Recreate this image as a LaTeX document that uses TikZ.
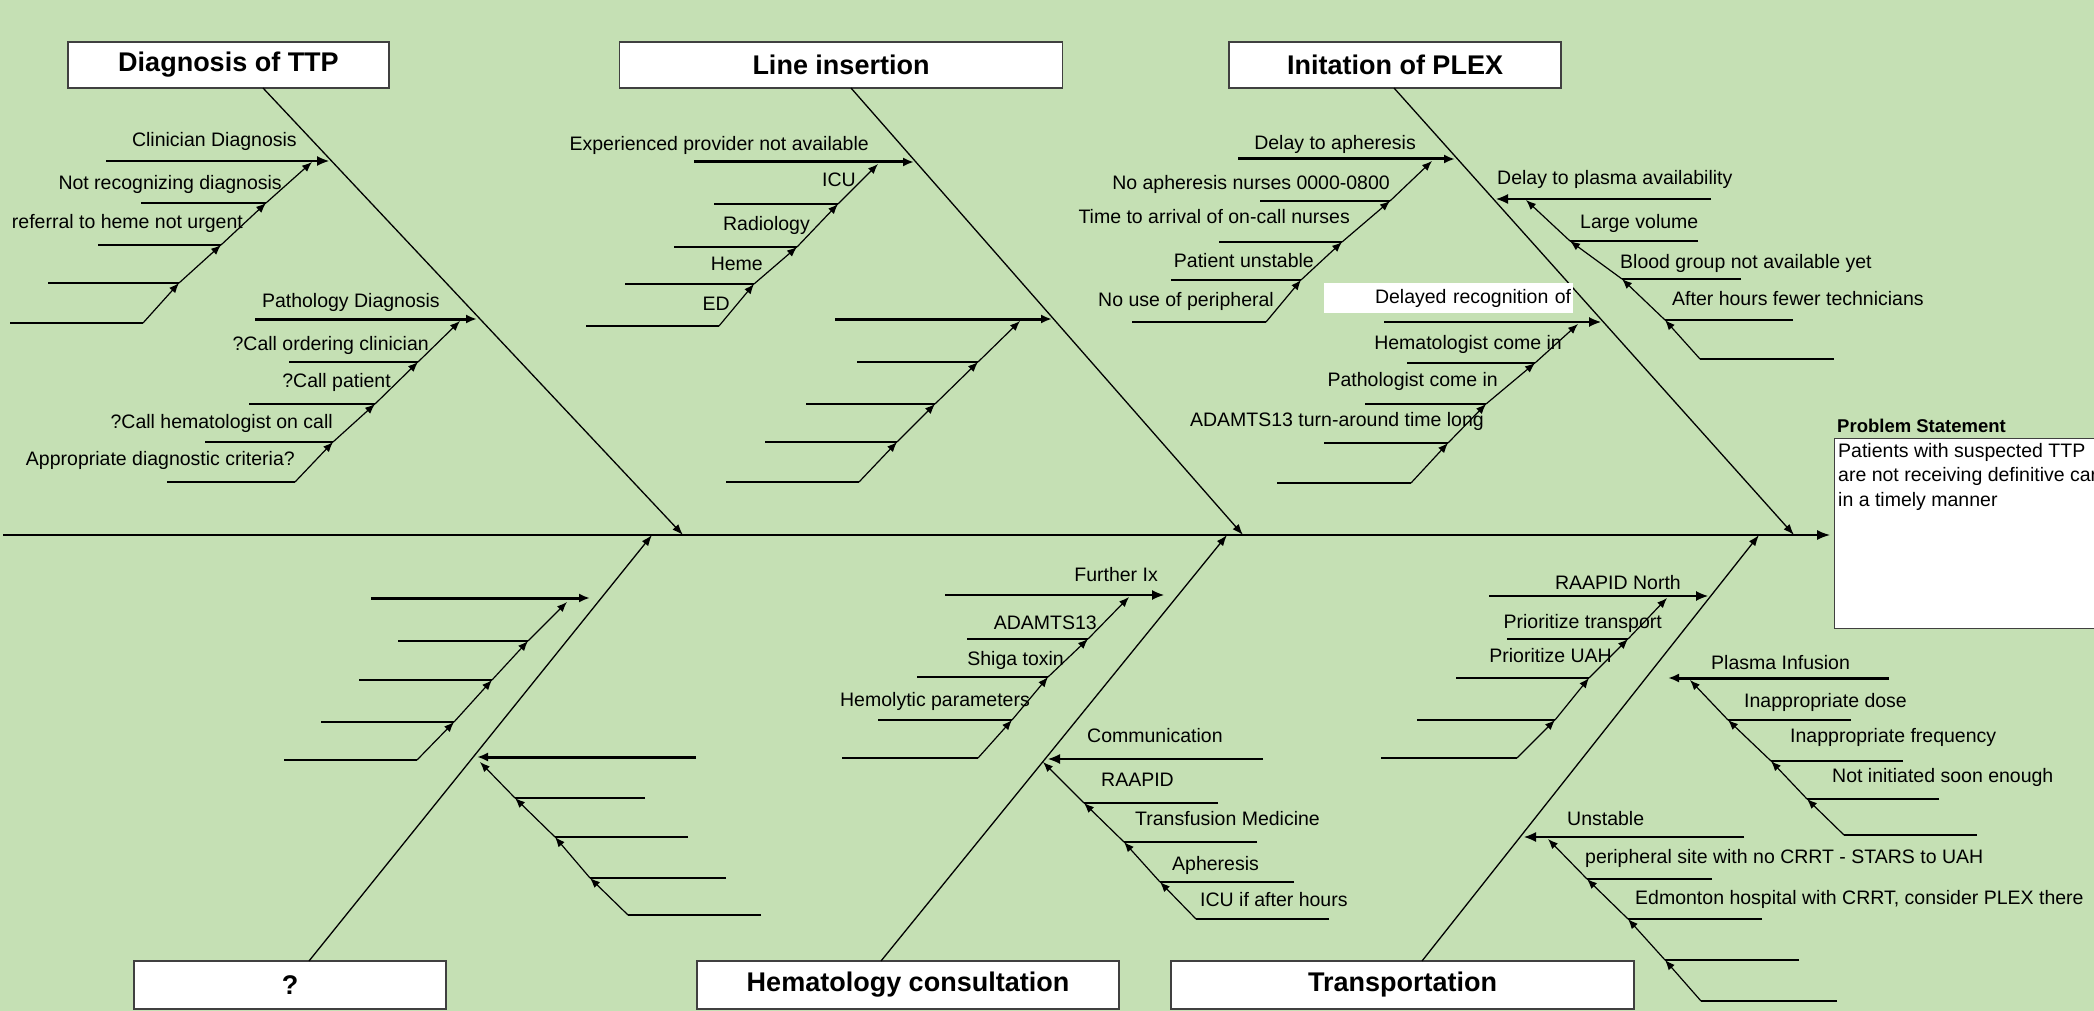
\documentclass[tikz,border=0pt]{standalone}
\usepackage{fontspec}
\setmainfont{Liberation Sans}
\usetikzlibrary{arrows.meta,positioning}
\definecolor{fishbg}{RGB}{197,224,180}
\newcommand{\lblsize}{\fontsize{19.5}{24.5}\selectfont}

\tikzset{
  catbox/.style={draw=black!75, line width=1.3pt, fill=white, inner sep=0pt,
    font=\bfseries\fontsize{27}{30}\selectfont},
  lbl/.style={inner sep=0pt, font=\lblsize},
  spine/.style={line width=1.5pt, -{Latex[length=13pt,width=10pt]}},
  bone/.style={line width=1.3pt, -{Latex[length=11pt,width=8pt]}},
  rib/.style={line width=1.2pt},
  ribarr/.style={line width=1.2pt, -{Latex[length=10pt,width=8pt]}},
  headthin/.style={line width=1.2pt, -{Latex[length=12pt,width=10pt]}},
  headarr/.style={line width=3pt, -{Latex[length=11pt,width=9pt]}},
}

\begin{document}
\begin{tikzpicture}[x=1pt,y=-1pt]
  \fill[fishbg] (0,0) rectangle (2094,1011);
  \useasboundingbox (0,0) rectangle (2094,1011);
  \clip (0,0) rectangle (2094,1011);

  % spine and problem statement
  \coordinate (tail) at (3,535);
  \coordinate (effect) at (1830,535);
  \draw[spine] (tail) -- (effect);
  \node[lbl, font=\bfseries\fontsize{18.5}{22}\selectfont, anchor=base west] (probtitle) at (1837,432) {Problem Statement};
  \node[draw=black!75, line width=1.3pt, fill=white, minimum width=300pt, minimum height=190pt,
        anchor=north west, inner sep=0pt] (probbox) at (1834,438) {};
  \node[lbl, anchor=north west, align=left] (probtext) at (1838,443)
    {Patients with suspected TTP\\are not receiving definitive care\\in a timely manner};

  % category boxes
  \node[catbox, minimum width=321pt, minimum height=46pt] (diag) at (228.5,65) {Diagnosis of TTP};
  \node[catbox, minimum width=443pt, minimum height=46pt] (line) at (841,65) {Line insertion};
  \node[catbox, minimum width=332pt, minimum height=46pt] (plex) at (1395,65) {Initation of PLEX};
  \node[catbox, minimum width=312pt, minimum height=48pt] (unkn) at (290,985) {?};
  \node[catbox, minimum width=422pt, minimum height=48pt] (hema) at (908,985) {Hematology consultation};
  \node[catbox, minimum width=463pt, minimum height=48pt] (trans) at (1402.5,985) {Transportation};

  % main bones
  \coordinate (diagfoot) at (263,88);   \coordinate (diaghit) at (683,535);
  \coordinate (linefoot) at (851,88);   \coordinate (linehit) at (1243,535);
  \coordinate (plexfoot) at (1394,88);  \coordinate (plexhit) at (1794,535);
  \coordinate (unknfoot) at (309,961);  \coordinate (unknhit) at (652,535);
  \coordinate (hemafoot) at (881,961);  \coordinate (hemahit) at (1227,535);
  \coordinate (transfoot) at (1422,961); \coordinate (transhit) at (1759,535);
  \foreach \b in {diag,line,plex,unkn,hema,trans}
    \draw[bone] (\b foot) -- (\b hit);

  % Diagnosis of TTP
  \draw[headthin] (106,161) -- (329,161);
  \foreach \xl/\xr/\y [count=\i] in {10/143/323,48/179/283,98/221/245,141/266/203}
    \draw[rib] (\xl,\y) -- (\xr,\y) coordinate (cd\i);
  \coordinate (cd5) at (312,162);
  \node[lbl, anchor=base east] (cdlbl) at (297,147) {Clinician Diagnosis};
  \node[lbl, anchor=base east] (cdl4) at (282,190) {Not recognizing diagnosis};
  \node[lbl, anchor=base east] (cdl3) at (243,229) {referral to heme not urgent};

  \draw[headarr] (255,319) -- (477,319);
  \foreach \xl/\xr/\y [count=\i] in {167/295/482,205/333/442,249/375/404,289/418/362}
    \draw[rib] (\xl,\y) -- (\xr,\y) coordinate (pd\i);
  \coordinate (pd5) at (460,321);
  \node[lbl, anchor=base east] (pdlbl) at (440,307) {Pathology Diagnosis};
  \node[lbl, anchor=base east] (pdl4) at (429,350) {?Call ordering clinician};
  \node[lbl, anchor=base east] (pdl3) at (391,387) {?Call patient};
  \node[lbl, anchor=base east] (pdl2) at (333,428) {?Call hematologist on call};
  \node[lbl, anchor=base east] (pdl1) at (295,465) {Appropriate diagnostic criteria?};

  % Line insertion
  \draw[headarr] (694,162) -- (914,162);
  \foreach \xl/\xr/\y [count=\i] in {586/719/326,625/754/284,674/797/247,714/838/204}
    \draw[rib] (\xl,\y) -- (\xr,\y) coordinate (ep\i);
  \coordinate (ep5) at (878,164);
  \node[lbl, anchor=base east] (eplbl) at (869,151) {Experienced provider not available};
  \node[lbl, anchor=base east] (epl4) at (856,187) {ICU};
  \node[lbl, anchor=base east] (epl3) at (810,231) {Radiology};
  \node[lbl, anchor=base east] (epl2) at (763,270) {Heme};
  \node[lbl, anchor=base east] (epl1) at (730,310) {ED};

  \draw[headarr] (835,319) -- (1052,319);
  \foreach \xl/\xr/\y [count=\i] in {726/859/482,765/897/442,806/935/404,857/978/362}
    \draw[rib] (\xl,\y) -- (\xr,\y) coordinate (ln\i);
  \coordinate (ln5) at (1020,321);

  % Initation of PLEX
  \draw[headarr] (1238,159) -- (1455,159);
  \foreach \xl/\xr/\y [count=\i] in {1132/1266/322,1171/1301/280,1219/1342/242,1260/1390/201}
    \draw[rib] (\xl,\y) -- (\xr,\y) coordinate (da\i);
  \coordinate (da5) at (1432,161);
  \node[lbl, anchor=base east] (dalbl) at (1416,150) {Delay to apheresis};
  \node[lbl, anchor=base east] (dal4) at (1390,190) {No apheresis nurses 0000-0800};
  \node[lbl, anchor=base east] (dal3) at (1350,224) {Time to arrival of on-call nurses};
  \node[lbl, anchor=base east] (dal2) at (1314,267) {Patient unstable};
  \node[lbl, anchor=base east] (dal1) at (1274,306) {No use of peripheral};

  \draw[headthin] (1384,322) -- (1601,322);
  \foreach \xl/\xr/\y [count=\i] in {1277/1411/483,1324/1448/443,1365/1486/404,1407/1535/363}
    \draw[rib] (\xl,\y) -- (\xr,\y) coordinate (dr\i);
  \coordinate (dr5) at (1578,324);
  \node[lbl, fill=white, text width=245pt, align=right, minimum height=30pt, inner sep=2pt,
        anchor=north west] (drlbl) at (1324,283) {Delayed recognition of};
  \node[lbl, anchor=base east] (drl4) at (1562,349) {Hematologist come in};
  \node[lbl, anchor=base east] (drl3) at (1498,386) {Pathologist come in};
  \node[lbl, anchor=base east] (drl2) at (1484,426) {ADAMTS13 turn-around time long};

  \draw[headthin] (1711,199) -- (1496,199);
  \foreach \xl/\xr/\y [count=\i] in {1700/1834/359,1665/1793/320,1622/1741/279,1570/1698/241}
    \draw[rib] (\xr,\y) -- (\xl,\y) coordinate (dp\i);
  \coordinate (dp5) at (1526,200);
  \node[lbl, anchor=base west] (dplbl) at (1497,185) {Delay to plasma availability};
  \node[lbl, anchor=base west] (dpl4) at (1580,229) {Large volume};
  \node[lbl, anchor=base west] (dpl3) at (1620,269) {Blood group not available yet};
  \node[lbl, anchor=base west] (dpl2) at (1672,305) {After hours fewer technicians};

  % ?
  \draw[headarr] (371,598) -- (590,598);
  \foreach \xl/\xr/\y [count=\i] in {284/417/760,321/454/722,359/492/680,398/528/641}
    \draw[rib] (\xl,\y) -- (\xr,\y) coordinate (qa\i);
  \coordinate (qa5) at (567,602);

  \draw[headarr] (696,757) -- (477,757);
  \foreach \xl/\xr/\y [count=\i] in {628/761/915,590/726/878,555/688/837,515/645/798}
    \draw[rib] (\xr,\y) -- (\xl,\y) coordinate (qb\i);
  \coordinate (qb5) at (480,762);

  % Hematology consultation
  \draw[headthin] (945,595) -- (1164,595);
  \foreach \xl/\xr/\y [count=\i] in {842/978/758,878/1012/720,917/1048/677,967/1088/639}
    \draw[rib] (\xl,\y) -- (\xr,\y) coordinate (fi\i);
  \coordinate (fi5) at (1129,597);
  \node[lbl, anchor=base east] (filbl) at (1158,581) {Further Ix};
  \node[lbl, anchor=base east] (fil4) at (1097,629) {ADAMTS13};
  \node[lbl, anchor=base east] (fil3) at (1064,665) {Shiga toxin};
  \node[lbl, anchor=base east] (fil2) at (1030,706) {Hemolytic parameters};

  \draw[headthin] (1263,759) -- (1048,759);
  \foreach \xl/\xr/\y [count=\i] in {1196/1329/919,1160/1294/882,1124/1257/842,1084/1218/803}
    \draw[rib] (\xr,\y) -- (\xl,\y) coordinate (cm\i);
  \coordinate (cm5) at (1043,762);
  \node[lbl, anchor=base west] (cmlbl) at (1087,742) {Communication};
  \node[lbl, anchor=base west] (cml4) at (1101,786) {RAAPID};
  \node[lbl, anchor=base west] (cml3) at (1135,825) {Transfusion Medicine};
  \node[lbl, anchor=base west] (cml2) at (1172,870) {Apheresis};
  \node[lbl, anchor=base west] (cml1) at (1200,906) {ICU if after hours};

  % Transportation
  \draw[headthin] (1489,596) -- (1708,596);
  \foreach \xl/\xr/\y [count=\i] in {1381/1517/758,1417/1555/720,1456/1589/678,1507/1628/639}
    \draw[rib] (\xl,\y) -- (\xr,\y) coordinate (rn\i);
  \coordinate (rn5) at (1667,598);
  \node[lbl, anchor=base east] (rnlbl) at (1681,589) {RAAPID North};
  \node[lbl, anchor=base east] (rnl4) at (1662,628) {Prioritize transport};
  \node[lbl, anchor=base east] (rnl3) at (1612,662) {Prioritize UAH};

  \draw[headarr] (1889,678) -- (1668,678);
  \foreach \xl/\xr/\y [count=\i] in {1844/1977/835,1807/1939/799,1771/1903/761,1728/1851/720}
    \draw[rib] (\xr,\y) -- (\xl,\y) coordinate (pi\i);
  \coordinate (pi5) at (1690,680);
  \node[lbl, anchor=base west] (pilbl) at (1711,669) {Plasma Infusion};
  \node[lbl, anchor=base west] (pil4) at (1744,707) {Inappropriate dose};
  \node[lbl, anchor=base west] (pil3) at (1790,742) {Inappropriate frequency};
  \node[lbl, anchor=base west] (pil2) at (1832,782) {Not initiated soon enough};

  \draw[headthin] (1744,837) -- (1524,837);
  \foreach \xl/\xr/\y [count=\i] in {1701/1837/1001,1665/1799/960,1628/1762/919,1587/1712/879}
    \draw[rib] (\xr,\y) -- (\xl,\y) coordinate (us\i);
  \coordinate (us5) at (1548,839);
  \node[lbl, anchor=base west] (uslbl) at (1567,825) {Unstable};
  \node[lbl, anchor=base west] (usl4) at (1585,863) {peripheral site with no CRRT - STARS to UAH};
  \node[lbl, anchor=base west] (usl3) at (1635,904) {Edmonton hospital with CRRT, consider PLEX there};

  % rib diagonals
  \foreach \g in {cd,pd,ep,ln,da,dr,dp,qa,qb,fi,cm,rn,pi,us}
    \foreach \i/\k in {1/2,2/3,3/4,4/5}
      \draw[ribarr] (\g\i) -- (\g\k);
\end{tikzpicture}
\end{document}
